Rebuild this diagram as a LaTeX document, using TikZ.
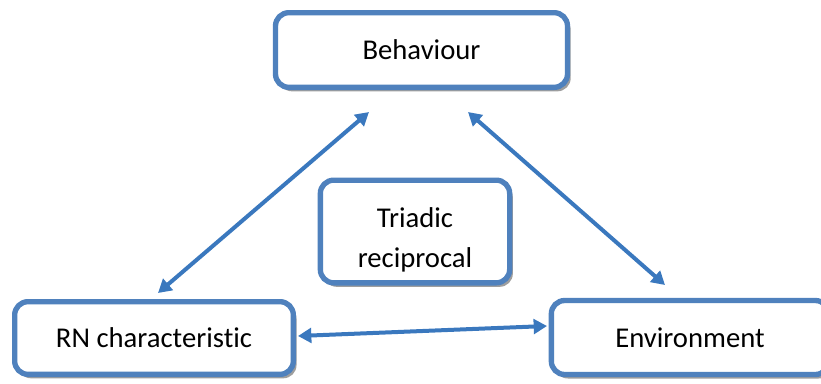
\documentclass[tikz,border=0pt]{standalone}
\usepackage{fontspec}
\setmainfont{Carlito}[Ligatures=NoCommon]
\usetikzlibrary{arrows.meta,shadows}
\definecolor{boxblue}{RGB}{79,129,189}
\definecolor{arrblue}{RGB}{58,120,190}
\begin{document}
\begin{tikzpicture}[x=0.75pt,y=-0.75pt,
  box/.style={draw=boxblue,line width=4pt,rounded corners=10pt,fill=white,
    align=center,inner sep=0pt,
    font=\fontsize{21.5}{30}\selectfont,
    drop shadow={shadow xshift=2.4pt,shadow yshift=-3pt,fill=black!38,opacity=1}},
  link/.style={draw=arrblue,line width=3pt,{Triangle[length=10pt,width=11pt]}-{Triangle[length=10pt,width=11pt]}}]
\useasboundingbox (0,0) rectangle (821,383);
\clip (0,0) rectangle (821,383);
\node[box,minimum width=219pt,minimum height=56pt] (B) at (421.5,50) {Behaviour};
\node[box,minimum width=209pt,minimum height=54.5pt] (R) at (154,338) {RN characteristic};
\node[box,minimum width=208pt,minimum height=55.5pt] (E) at (690,337.5) {Environment};
\node[box,minimum width=142pt,minimum height=77pt] (T) at (415,231.5) {\rule{0pt}{27pt}Triadic\\reciprocal};
\coordinate (b1) at (369,112);
\coordinate (r1) at (158,293);
\coordinate (b2) at (468,112);
\coordinate (e1) at (665,285);
\coordinate (r2) at (298,336);
\coordinate (e2) at (547,326);
\draw[link] (r1) -- (b1);
\draw[link] (b2) -- (e1);
\draw[link] (r2) -- (e2);
\end{tikzpicture}
\end{document}
